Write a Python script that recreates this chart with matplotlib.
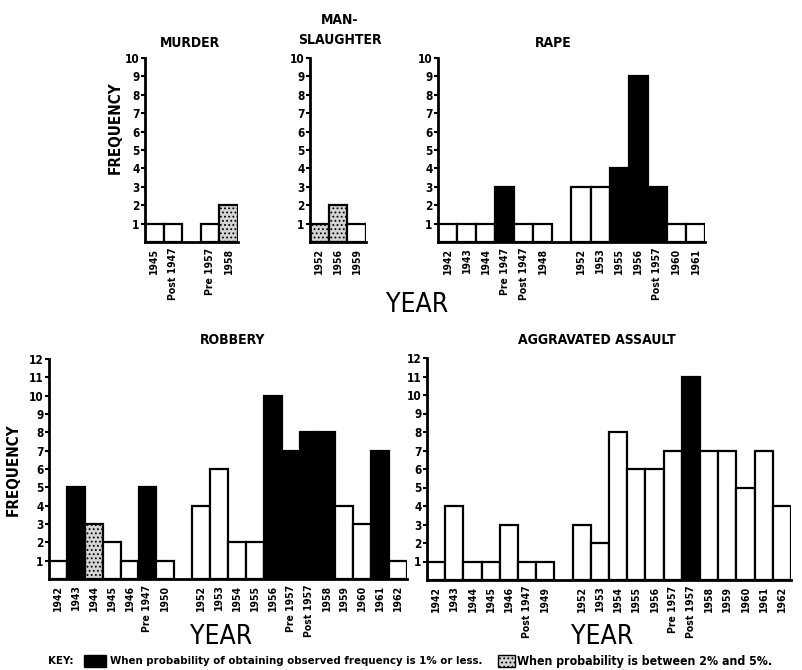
import matplotlib
matplotlib.use("Agg")
import matplotlib.pyplot as plt
import matplotlib.patches as patches

# significance codes: 'n' = not significant, 's' = 1% or less (black), 'p' = 2%-5% (stippled)
murder_labels = ["1945", "Post 1947", "", "Pre 1957", "1958"]
murder_values = [1, 1, 0, 1, 2]
murder_sig = ["n", "n", "", "n", "p"]

mans_labels = ["1952", "1956", "1959"]
mans_values = [1, 2, 1]
mans_sig = ["p", "p", "n"]

rape_labels = ["1942", "1943", "1944", "Pre 1947", "Post 1947", "1948", "",
               "1952", "1953", "1955", "1956", "Post 1957", "1960", "1961"]
rape_values = [1, 1, 1, 3, 1, 1, 0, 3, 3, 4, 9, 3, 1, 1]
rape_sig = ["n", "n", "n", "s", "n", "n", "", "n", "n", "s", "s", "s", "n", "n"]

rob_labels = ["1942", "1943", "1944", "1945", "1946", "Pre 1947", "1950", "",
              "1952", "1953", "1954", "1955", "1956", "Pre 1957", "Post 1957",
              "1958", "1959", "1960", "1961", "1962"]
rob_values = [1, 5, 3, 2, 1, 5, 1, 0, 4, 6, 2, 2, 10, 7, 8, 8, 4, 3, 7, 1]
rob_sig = ["n", "s", "p", "n", "n", "s", "n", "", "n", "n", "n", "n", "s", "s", "s",
           "s", "n", "n", "s", "n"]

agg_labels = ["1942", "1943", "1944", "1945", "1946", "Post 1947", "1949", "",
              "1952", "1953", "1954", "1955", "1956", "Pre 1957", "Post 1957",
              "1958", "1959", "1960", "1961", "1962"]
agg_values = [1, 4, 1, 1, 3, 1, 1, 0, 3, 2, 8, 6, 6, 7, 11, 7, 7, 5, 7, 4]
agg_sig = ["n", "n", "n", "n", "n", "n", "n", "", "n", "n", "n", "n", "n", "n", "s",
           "n", "n", "n", "n", "n"]

W, H = 803, 670
fig = plt.figure(figsize=(W / 100, H / 100), dpi=100)

FONT = dict(family="DejaVu Sans", stretch="condensed", weight="bold")
plt.rcParams["hatch.linewidth"] = 0.8


def box(x0, x1, ybot, ytop):
    return [x0 / W, 1 - ybot / H, (x1 - x0) / W, (ybot - ytop) / H]


def panel(rect, labels, values, sig, ymax):
    ax = fig.add_axes(rect)
    for i, (v, s) in enumerate(zip(values, sig)):
        if s == "":
            continue
        if s == "s":
            ax.bar(i, v, width=1, color="black", edgecolor="black", linewidth=1.6)
        elif s == "p":
            ax.bar(i, v, width=1, color="#d4d4d4", edgecolor="black", linewidth=1.6,
                   hatch="....")
        else:
            ax.bar(i, v, width=1, color="white", edgecolor="black", linewidth=1.6)
    ax.set_xlim(-0.5, len(values) - 0.5)
    ax.set_ylim(0, ymax)
    for sp in ["top", "right"]:
        ax.spines[sp].set_visible(False)
    ax.spines["left"].set_linewidth(2)
    ax.spines["bottom"].set_linewidth(2)
    ax.set_yticks(range(1, ymax + 1))
    ax.set_yticklabels([str(t) for t in range(1, ymax + 1)], fontsize=8.5, **FONT)
    ax.tick_params(axis="y", direction="out", length=3, width=1.5, pad=1)
    ticks = [i for i, l in enumerate(labels) if l]
    ax.set_xticks(ticks)
    ax.set_xticklabels([labels[i] for i in ticks], rotation=90, va="top", ha="center",
                       fontsize=7.5, **FONT)
    ax.tick_params(axis="x", length=0, pad=4)
    ax.set_facecolor("none")
    return ax


panel(box(145, 238, 242, 58), murder_labels, murder_values, murder_sig, 10)
panel(box(310, 366, 242, 58), mans_labels, mans_values, mans_sig, 10)
panel(box(438, 705, 242, 58), rape_labels, rape_values, rape_sig, 10)
panel(box(49, 407, 579, 359), rob_labels, rob_values, rob_sig, 12)
panel(box(427, 791, 580, 358), agg_labels, agg_values, agg_sig, 12)


def ftext(x, y, s, size, rot=0, **kw):
    fig.text(x / W, 1 - y / H, s, fontsize=size, rotation=rot, ha="center", va="center", **kw)


ftext(190, 43, "MURDER", 10, **FONT)
ftext(340, 20, "MAN-", 10, **FONT)
ftext(340, 40, "SLAUGHTER", 10, **FONT)
ftext(553, 43, "RAPE", 10, **FONT)
ftext(233, 340, "ROBBERY", 10, **FONT)
ftext(597, 340, "AGGRAVATED ASSAULT", 10, **FONT)
ftext(115, 128, "FREQUENCY", 11, rot=90, **FONT)
ftext(13, 470, "FREQUENCY", 11, rot=90, **FONT)

YEARFONT = dict(family="DejaVu Sans", stretch="condensed")
ftext(417, 305, "YEAR", 19, **YEARFONT)
ftext(221, 637, "YEAR", 19, **YEARFONT)
ftext(602, 637, "YEAR", 19, **YEARFONT)

# key
fig.text(48 / W, 1 - 661 / H, "KEY:", fontsize=8.2, ha="left", va="center", **FONT)
fig.patches.append(patches.Rectangle((84 / W, 1 - 667 / H), 22 / W, 12 / H,
                                     transform=fig.transFigure, facecolor="black",
                                     edgecolor="black"))
fig.text(110 / W, 1 - 661 / H, "When probability of obtaining observed frequency is 1% or less.",
         fontsize=8.2, ha="left", va="center", **FONT)
fig.patches.append(patches.Rectangle((498 / W, 1 - 667 / H), 17 / W, 12 / H,
                                     transform=fig.transFigure, facecolor="#d4d4d4",
                                     edgecolor="black", hatch="....", linewidth=1))
fig.text(517 / W, 1 - 661 / H, "When probability is between 2% and 5%.",
         fontsize=8.8, ha="left", va="center", **FONT)

fig.savefig("out.png", dpi=100, facecolor="white")
